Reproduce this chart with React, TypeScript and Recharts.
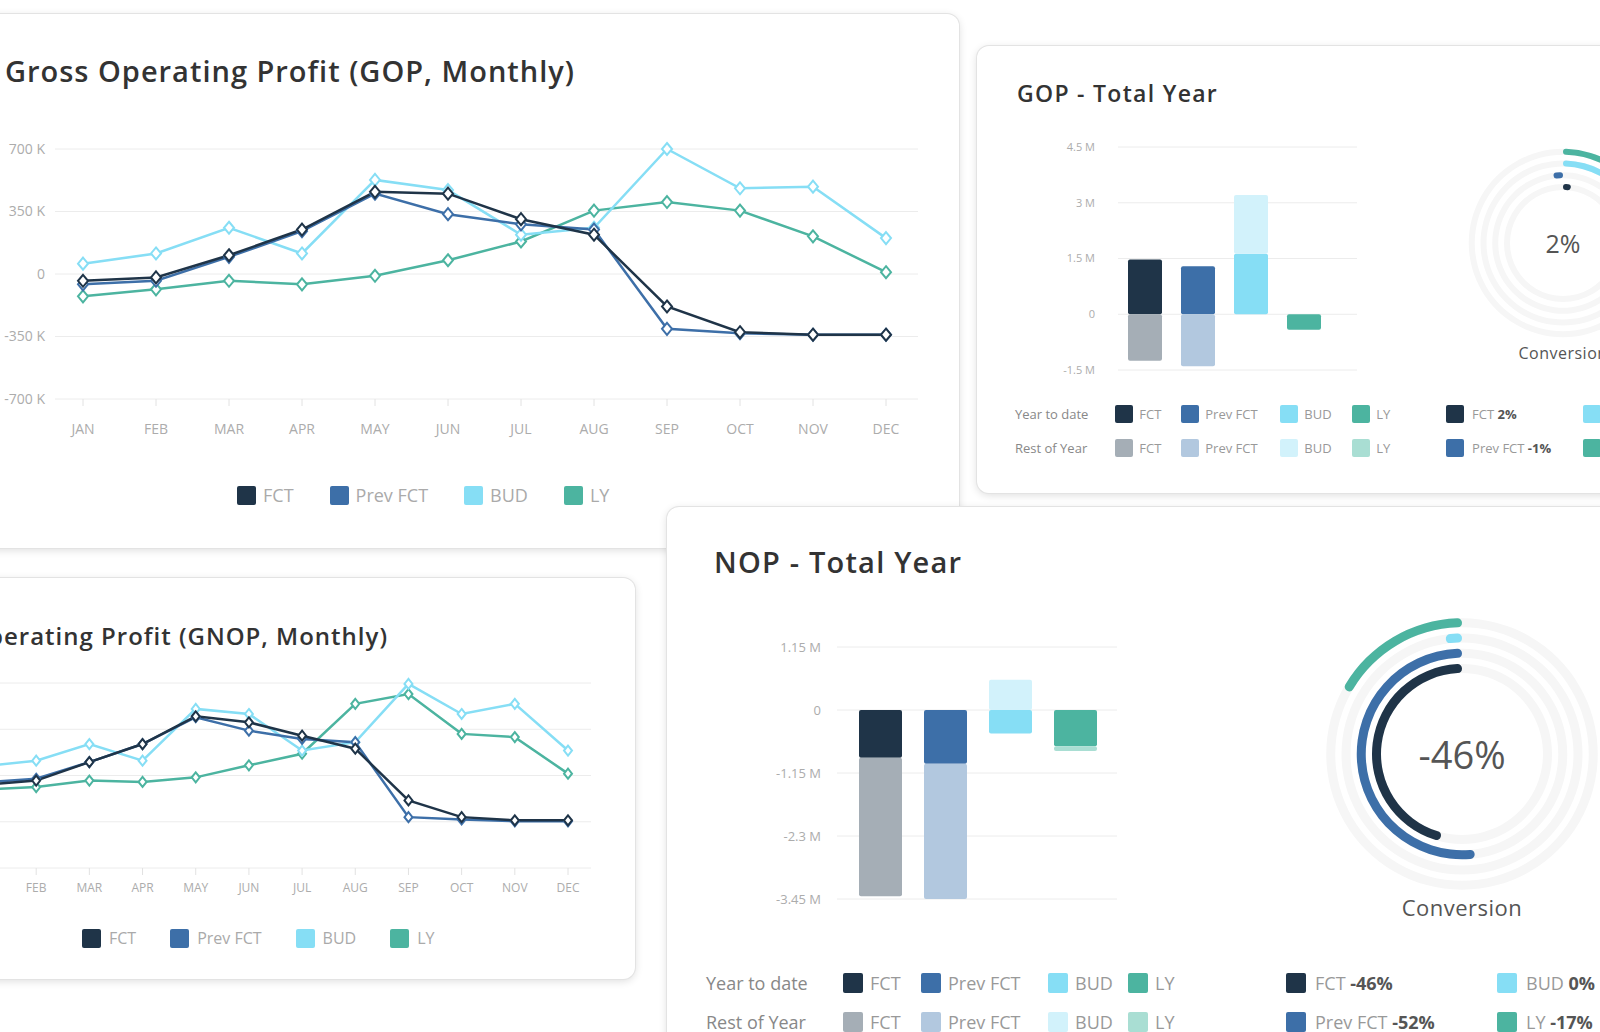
import React from "react";
import {
  LineChart,
  Line,
  XAxis,
  YAxis,
  CartesianGrid,
  BarChart,
  Bar,
  Cell,
  RadialBarChart,
  RadialBar,
  PolarAngleAxis,
} from "recharts";

// ---- data ----
const MONTHS = ["JAN", "FEB", "MAR", "APR", "MAY", "JUN", "JUL", "AUG", "SEP", "OCT", "NOV", "DEC"];
const SERIES = ["FCT", "Prev FCT", "BUD", "LY"];

// GOP monthly, thousands
const GOP_FCT = [-38, -19, 105, 249, 460, 450, 307, 220, -182, -326, -340, -340];
const GOP_PREV = [-58, -38, 96, 240, 450, 335, 278, 249, -307, -332, -340, -340];
const GOP_BUD = [58, 115, 259, 115, 527, 470, 220, 259, 700, 480, 489, 201];
const GOP_LY = [-125, -86, -38, -58, -10, 77, 182, 355, 403, 355, 211, 10];
const GOP_TICKS = [-700, -350, 0, 350, 700];

// GNOP monthly, thousands
const GNOP_FCT = [-60, -33, 87, 204, 384, 345, 258, 174, -162, -270, -291, -291];
const GNOP_PREV = [-45, -21, 87, 204, 378, 291, 237, 216, -270, -285, -297, -297];
const GNOP_BUD = [60, 96, 204, 96, 432, 399, 162, 216, 594, 399, 465, 162];
const GNOP_LY = [-90, -75, -33, -42, -12, 66, 141, 465, 528, 270, 249, 12];
const GNOP_TICKS = [-600, -300, 0, 300, 600];

// total year, millions
const GOP_YTD = [1.47, 1.29, 1.63, -0.42];
const GOP_ROY = [-1.25, -1.4, 1.58, 0];
const GOP_TOTAL_TICKS = [-1.5, 0, 1.5, 3, 4.5];
const NOP_YTD = [-0.87, -0.98, -0.43, -0.66];
const NOP_ROY = [-2.53, -2.47, 0.55, -0.09];
const NOP_TOTAL_TICKS = [-3.45, -2.3, -1.15, 0, 1.15];

// conversion %
const GOP_CONV = [2, -1, 30, 35];
const NOP_CONV = [-46, -52, -0.4, -17];

// ---- styles ----
const W = 1600;
const H = 1032;
const FONT = '"Open Sans", "Noto Sans", sans-serif';
const LINE_COLORS = ["#1f3448", "#3d6fa8", "#86def5", "#4cb4a0"];
const ROY_COLORS = ["#a5aeb6", "#b2c8df", "#d2f2fb", "#a9ded3"];
const GRID = "#ececec";
const AXIS_TEXT = "#acacac";

const monthly = (fct: number[], prev: number[], bud: number[], ly: number[]) =>
  MONTHS.map((m, i) => ({ m, fct: fct[i], prev: prev[i], bud: bud[i], ly: ly[i] }));

const totals = (ytd: number[], roy: number[]) =>
  SERIES.map((name, i) => ({ name, ytd: ytd[i], roy: roy[i] }));

const conv = (vals: number[]) => SERIES.map((name, i) => ({ name, value: vals[i] }));

const pct = (v: number) => `${Math.round(v) === 0 ? 0 : Math.round(v)}%`;

function Card({ x, y, w, h, z, children }: any) {
  return (
    <div
      style={{
        position: "absolute",
        left: x,
        top: y,
        width: w,
        height: h,
        background: "#fff",
        borderRadius: 12,
        boxShadow: "0 0 0 1px #e3e3e3, 0 2px 8px rgba(0,0,0,0.14)",
        overflow: "hidden",
        zIndex: z,
      }}
    >
      <div style={{ position: "absolute", left: -x, top: -y, width: W, height: H }}>{children}</div>
    </div>
  );
}

function Title({ text, right, left, cy, size, spacing }: any) {
  const pos: any = { position: "absolute", top: cy - size * 0.68, whiteSpace: "nowrap" };
  if (right !== undefined) pos.right = W - right;
  else pos.left = left;
  return (
    <div style={{ ...pos, fontSize: size, fontWeight: 600, color: "#333", lineHeight: 1.36, letterSpacing: spacing }}>
      {text}
    </div>
  );
}

const diamond = (color: string, r: number) => (p: any) => (
  <path
    key={`d-${color}-${p.index}`}
    d={`M${p.cx},${p.cy - r - 1} L${p.cx + r},${p.cy} L${p.cx},${p.cy + r + 1} L${p.cx - r},${p.cy} Z`}
    fill="#fff"
    stroke={color}
    strokeWidth={2}
  />
);

function MonthlyChart({ left, top, width, height, margin, yWidth, ticks, data, pad, tickMargin, font, r }: any) {
  const keys = ["ly", "bud", "prev", "fct"];
  const colors = [LINE_COLORS[3], LINE_COLORS[2], LINE_COLORS[1], LINE_COLORS[0]];
  return (
    <div style={{ position: "absolute", left, top }}>
      <LineChart width={width} height={height} data={data} margin={margin}>
        <CartesianGrid vertical={false} stroke={GRID} />
        <XAxis
          dataKey="m"
          axisLine={false}
          tickSize={7}
          tickLine={{ stroke: "#e2e2e2" }}
          tickMargin={tickMargin}
          padding={pad}
          interval={0}
          height={30}
          tick={{ fill: AXIS_TEXT, fontSize: font, fontFamily: FONT }}
        />
        <YAxis
          width={yWidth}
          domain={[ticks[0], ticks[ticks.length - 1]]}
          ticks={ticks}
          axisLine={false}
          tickLine={false}
          tickMargin={4}
          tick={{ fill: AXIS_TEXT, fontSize: font, fontFamily: FONT }}
          tickFormatter={(v) => (v === 0 ? "0" : `${v} K`)}
        />
        {keys.map((k, i) => (
          <Line
            key={k}
            type="linear"
            dataKey={k}
            stroke={colors[i]}
            strokeWidth={2.5}
            dot={diamond(colors[i], r)}
            isAnimationActive={false}
          />
        ))}
      </LineChart>
    </div>
  );
}

function LineLegend({ left, cy, size, font, gap, textGap }: any) {
  return (
    <div
      style={{ position: "absolute", left, top: cy - size / 2, height: size, display: "flex", alignItems: "center", gap }}
    >
      {SERIES.map((s, i) => (
        <div key={s} style={{ display: "flex", alignItems: "center", gap: textGap }}>
          <div style={{ width: size, height: size, background: LINE_COLORS[i], borderRadius: 2 }} />
          <span style={{ fontSize: font, color: "#aaa", lineHeight: 1 }}>{s}</span>
        </div>
      ))}
    </div>
  );
}

function TotalBars({ left, top, width, height, margin, yWidth, ticks, data, pad, barSize, font, tickMargin }: any) {
  return (
    <div style={{ position: "absolute", left, top }}>
      <BarChart width={width} height={height} data={data} margin={margin} stackOffset="sign">
        <CartesianGrid vertical={false} stroke={GRID} />
        <XAxis dataKey="name" hide padding={pad} />
        <YAxis
          width={yWidth}
          domain={[ticks[0], ticks[ticks.length - 1]]}
          ticks={ticks}
          axisLine={false}
          tickLine={false}
          tickMargin={tickMargin}
          tick={{ fill: AXIS_TEXT, fontSize: font, fontFamily: FONT }}
          tickFormatter={(v) => (v === 0 ? "0" : `${v} M`)}
        />
        <Bar dataKey="ytd" stackId="a" barSize={barSize} radius={2} isAnimationActive={false}>
          {data.map((d: any, i: number) => (
            <Cell key={d.name} fill={LINE_COLORS[i]} />
          ))}
        </Bar>
        <Bar dataKey="roy" stackId="a" barSize={barSize} radius={2} isAnimationActive={false}>
          {data.map((d: any, i: number) => (
            <Cell key={d.name} fill={ROY_COLORS[i]} />
          ))}
        </Bar>
      </BarChart>
    </div>
  );
}

function Conversion({ cx, cy, size, inner, outer, barSize, data, font, labelY, labelFont }: any) {
  return (
    <>
      <div style={{ position: "absolute", left: cx - size / 2, top: cy - size / 2 }}>
        <RadialBarChart
          width={size}
          height={size}
          data={data}
          cx={size / 2}
          cy={size / 2}
          innerRadius={inner}
          outerRadius={outer}
          barSize={barSize}
          startAngle={450}
          endAngle={-270}
          margin={{ top: 0, right: 0, bottom: 0, left: 0 }}
        >
          <PolarAngleAxis type="number" domain={[-100, 100]} tick={false} axisLine={false} />
          <RadialBar
            dataKey="value"
            background={{ fill: "#f6f6f6" }}
            cornerRadius={barSize / 2}
            minPointSize={8}
            isAnimationActive={false}
          >
            {data.map((d: any, i: number) => (
              <Cell key={d.name} fill={LINE_COLORS[i]} />
            ))}
          </RadialBar>
        </RadialBarChart>
      </div>
      <div
        style={{
          position: "absolute",
          left: cx,
          top: cy,
          transform: "translate(-50%, -50%)",
          fontSize: font,
          color: "#555",
          whiteSpace: "nowrap",
        }}
      >
        {pct(data[0].value)}
      </div>
      <div
        style={{
          position: "absolute",
          left: cx,
          top: labelY,
          transform: "translate(-50%, -50%)",
          fontSize: labelFont,
          color: "#555",
          whiteSpace: "nowrap",
          letterSpacing: 0.5,
        }}
      >
        Conversion
      </div>
    </>
  );
}

function BarLegend({ left, rows, labelWidth, cols, size, font }: any) {
  const labels = ["Year to date", "Rest of Year"];
  const colorSets = [LINE_COLORS, ROY_COLORS];
  return (
    <>
      {rows.map((cy: number, r: number) => (
        <div
          key={labels[r]}
          style={{ position: "absolute", left, top: cy - size / 2, height: size, display: "flex", alignItems: "center" }}
        >
          <span style={{ width: labelWidth, fontSize: font, color: "#888", whiteSpace: "nowrap" }}>{labels[r]}</span>
          {SERIES.map((s, i) => (
            <div key={s} style={{ width: cols[i], display: "flex", alignItems: "center", gap: size * 0.35 }}>
              <div style={{ width: size, height: size, background: colorSets[r][i], borderRadius: 2 }} />
              <span style={{ fontSize: font, color: "#999", whiteSpace: "nowrap" }}>{s}</span>
            </div>
          ))}
        </div>
      ))}
    </>
  );
}

function ConvLegend({ xs, rows, vals, size, font }: any) {
  const layout = [
    [0, 2],
    [1, 3],
  ];
  return (
    <>
      {layout.map((row, r) =>
        row.map((i, c) => (
          <div
            key={SERIES[i]}
            style={{
              position: "absolute",
              left: xs[c],
              top: rows[r] - size / 2,
              height: size,
              display: "flex",
              alignItems: "center",
              gap: size * 0.45,
              whiteSpace: "nowrap",
            }}
          >
            <div style={{ width: size, height: size, background: LINE_COLORS[i], borderRadius: 2 }} />
            <span style={{ fontSize: font, color: "#999" }}>
              {SERIES[i]} <b style={{ color: "#555" }}>{pct(vals[i])}</b>
            </span>
          </div>
        ))
      )}
    </>
  );
}

export default function App() {
  return (
    <div
      style={{
        position: "fixed",
        left: 0,
        top: 0,
        width: W,
        height: H,
        overflow: "hidden",
        background: "#fff",
        fontFamily: FONT,
      }}
    >
      {/* GOP monthly */}
      <Card x={-60} y={14} w={1019} h={534} z={1}>
        <Title text="Gross Operating Profit (GOP, Monthly)" right={575} cy={71} size={29} spacing={1} />
        <MonthlyChart
          left={0}
          top={120}
          width={960}
          height={330}
          margin={{ top: 29, right: 42, bottom: 21, left: 10 }}
          yWidth={45}
          ticks={GOP_TICKS}
          data={monthly(GOP_FCT, GOP_PREV, GOP_BUD, GOP_LY)}
          pad={{ left: 28, right: 32 }}
          tickMargin={18}
          font={14}
          r={5}
        />
        <LineLegend left={237} cy={495} size={19} font={18} gap={36} textGap={7} />
      </Card>

      {/* GOP total year */}
      <Card x={977} y={46} w={700} h={447} z={1}>
        <Title text="GOP - Total Year" left={1017} cy={94} size={23} spacing={1.3} />
        <TotalBars
          left={1040}
          top={120}
          width={340}
          height={280}
          margin={{ top: 27, right: 23, bottom: 30, left: 28 }}
          yWidth={50}
          ticks={GOP_TOTAL_TICKS}
          data={totals(GOP_YTD, GOP_ROY)}
          pad={{ left: 0, right: 27 }}
          barSize={34}
          font={11}
          tickMargin={17}
        />
        <Conversion
          cx={1563}
          cy={243}
          size={210}
          inner={50}
          outer={97}
          barSize={6}
          data={conv(GOP_CONV)}
          font={25}
          labelY={353}
          labelFont={16}
        />
        <BarLegend left={1015} rows={[414, 448]} labelWidth={100} cols={[66, 99, 72, 60]} size={18} font={13} />
        <ConvLegend xs={[1446, 1583]} rows={[414, 448]} vals={GOP_CONV} size={18} font={13} />
      </Card>

      {/* GNOP monthly */}
      <Card x={-200} y={578} w={835} h={401} z={1}>
        <Title text="Gross Net Operating Profit (GNOP, Monthly)" right={388} cy={636} size={24} spacing={1} />
        <MonthlyChart
          left={-110}
          top={650}
          width={711}
          height={260}
          margin={{ top: 33, right: 10, bottom: 12, left: 20 }}
          yWidth={50}
          ticks={GNOP_TICKS}
          data={monthly(GNOP_FCT, GNOP_PREV, GNOP_BUD, GNOP_LY)}
          pad={{ left: 23, right: 23 }}
          tickMargin={8}
          font={12}
          r={4}
        />
        <LineLegend left={82} cy={938} size={19} font={16} gap={34} textGap={8} />
      </Card>

      {/* NOP total year */}
      <Card x={667} y={507} w={1000} h={600} z={2}>
        <Title text="NOP - Total Year" left={714} cy={562} size={29} spacing={1.2} />
        <TotalBars
          left={760}
          top={615}
          width={380}
          height={320}
          margin={{ top: 32, right: 23, bottom: 36, left: 17 }}
          yWidth={60}
          ticks={NOP_TOTAL_TICKS}
          data={totals(NOP_YTD, NOP_ROY)}
          pad={{ left: 11, right: 9 }}
          barSize={43}
          font={13}
          tickMargin={10}
        />
        <Conversion
          cx={1462}
          cy={754}
          size={300}
          inner={78}
          outer={139}
          barSize={9}
          data={conv(NOP_CONV)}
          font={38}
          labelY={907}
          labelFont={22}
        />
        <BarLegend left={706} rows={[983, 1022]} labelWidth={137} cols={[78, 127, 80, 70]} size={20} font={18} />
        <ConvLegend xs={[1286, 1497]} rows={[983, 1022]} vals={NOP_CONV} size={20} font={18} />
      </Card>
    </div>
  );
}
